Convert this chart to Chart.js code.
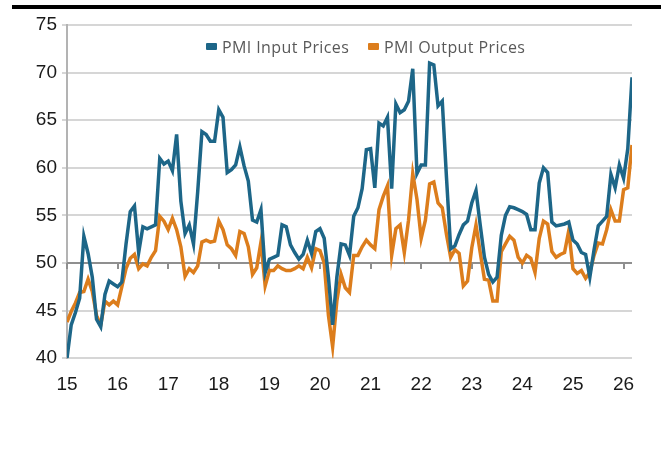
<!DOCTYPE html>
<html>
<head>
<meta charset="utf-8">
<script src="https://cdn.jsdelivr.net/npm/chart.js@4.4.1/dist/chart.umd.min.js"></script>
<style>
  html, body { margin: 0; padding: 0; background: #fff; }
  #wrap { position: relative; width: 661px; height: 471px; }
  #topbar { position: absolute; left: 12px; right: 0; top: 5px; height: 4px; background: #000; }
  .leg { position: absolute; top: 36px; font: 16px "Open Sans", sans-serif; letter-spacing: 0.4px; color: #595959; white-space: nowrap; }
  .leg i { display: inline-block; width: 11px; height: 7px; border-radius: 1px; margin-right: 5px; vertical-align: 3px; }
</style>
</head>
<body>
<div id="wrap">
  <canvas id="pmi" width="661" height="471"></canvas>
  <div id="topbar"></div>
  <div id="legend"></div>
</div>
<script>
// monthly readings, Jan 2015 .. Mar 2026
const startYear = 15;
const yearTicks = [15, 16, 17, 18, 19, 20, 21, 22, 23, 24, 25, 26];
const axisAt = 50;

const inputPrices = [
  40.0, 43.5, 44.8, 46.3, 52.8, 51.0, 48.5, 44.1, 43.3, 46.7, 48.1, 47.8,
  47.5, 48.0, 52.0, 55.4, 56.0, 51.1, 53.8, 53.6, 53.8, 54.0, 61.0, 60.4,
  60.7, 59.7, 63.5, 56.5, 53.1, 54.0, 52.0, 57.5, 63.8, 63.5, 62.8, 62.8,
  66.1, 65.3, 59.5, 59.8, 60.3, 62.2, 60.2, 58.6, 54.5, 54.3, 55.6, 49.0,
  50.4, 50.6, 50.8, 54.0, 53.8, 51.9, 51.1, 50.4, 50.9, 52.4, 51.0, 53.3,
  53.6, 52.6, 48.5, 43.5, 48.5, 52.0, 51.9, 50.8, 54.9, 55.8, 57.8, 61.9,
  62.0, 57.9, 64.7, 64.4, 65.3, 57.8, 66.7, 65.8, 66.1, 67.0, 70.4, 59.4,
  60.3, 60.3, 71.0, 70.8, 66.5, 67.0, 59.0, 51.5, 51.8, 53.0, 54.0, 54.4,
  56.3, 57.6, 54.0, 50.6, 48.8, 48.0, 48.5, 52.9, 55.0, 55.9, 55.8, 55.6,
  55.4, 55.1, 53.5, 53.5, 58.4, 60.0, 59.5, 54.3, 53.9, 54.0, 54.1, 54.3,
  52.4, 52.0, 51.1, 50.9, 48.5, 51.4, 53.9, 54.4, 54.9, 59.3, 57.9, 60.3,
  58.9, 62.0, 69.5
];

const outputPrices = [
  43.8, 44.9, 45.8, 46.9, 47.0, 48.3, 47.0, 44.5, 43.5, 46.0, 45.6, 46.0,
  45.6, 47.5, 49.4, 50.5, 50.9, 49.4, 49.9, 49.7, 50.6, 51.3, 54.9, 54.4,
  53.5, 54.7, 53.5, 51.7, 48.6, 49.4, 49.0, 49.7, 52.2, 52.4, 52.2, 52.3,
  54.4, 53.5, 51.9, 51.5, 50.8, 53.3, 53.1, 51.7, 48.8, 49.5, 52.2, 47.6,
  49.2, 49.2, 49.7, 49.4, 49.2, 49.2, 49.4, 49.7, 49.4, 50.6, 49.5, 51.5,
  51.3, 50.0, 44.5, 41.2, 46.0, 48.8, 47.4, 46.9, 50.8, 50.8, 51.7, 52.4,
  51.9, 51.5, 55.6, 57.0, 58.1, 50.8, 53.6, 54.0, 51.1, 54.5, 59.4, 56.7,
  52.6, 54.5, 58.3, 58.5, 56.3, 55.8, 53.0, 50.6, 51.4, 51.0, 47.6, 48.1,
  51.6, 54.0, 51.1, 48.3, 48.2, 46.0, 46.0, 51.2, 52.0, 52.8, 52.4, 50.6,
  50.0, 50.8, 50.5, 49.0, 52.6, 54.4, 54.1, 51.2, 50.6, 50.9, 51.1, 53.4,
  49.4, 48.9, 49.2, 48.4, 49.0, 50.8, 52.1, 52.0, 53.5, 55.6, 54.4, 54.4,
  57.7, 57.9, 62.4
];

const seriesNames = ['PMI Input Prices', 'PMI Output Prices'];
const seriesColors = ['#1d6688', '#dc7d1c'];

const toPoints = arr => arr.map((v, i) => ({x: startYear + i / 12, y: v}));
const lastX = startYear + (inputPrices.length - 1) / 12;

// legend drawn as html on top of the plot
const legendPos = [206, 368];
const $legend = document.getElementById('legend');
seriesNames.forEach((name, i) => {
  const el = document.createElement('div');
  el.className = 'leg';
  el.style.left = legendPos[i] + 'px';
  el.innerHTML = `<i style="background:${seriesColors[i]}"></i>${name}`;
  $legend.appendChild(el);
});

const midAxis = {
  id: 'midAxis',
  beforeDatasetsDraw(chart) {
    const {ctx, chartArea, scales: {x, y}} = chart;
    const yPos = y.getPixelForValue(axisAt);
    ctx.save();
    ctx.strokeStyle = '#8f8f8f';
    ctx.lineWidth = 2;
    ctx.beginPath();
    ctx.moveTo(chartArea.left, yPos);
    ctx.lineTo(chartArea.right, yPos);
    yearTicks.forEach(v => {
      const px = Math.round(x.getPixelForValue(v));
      ctx.moveTo(px, yPos);
      ctx.lineTo(px, yPos + 6);
    });
    ctx.stroke();
    ctx.restore();
  }
};

const tickFont = {family: "'Liberation Sans Narrow', 'Arial Narrow', 'Liberation Sans', sans-serif", size: 19};

const chart = new Chart(document.getElementById('pmi'), {
  type: 'line',
  data: {
    datasets: [
      {label: seriesNames[0], data: toPoints(inputPrices), borderColor: seriesColors[0], borderWidth: 3.5, pointRadius: 0, tension: 0},
      {label: seriesNames[1], data: toPoints(outputPrices), borderColor: seriesColors[1], borderWidth: 3.5, pointRadius: 0, tension: 0}
    ]
  },
  options: {
    responsive: false,
    animation: false,
    layout: {padding: {left: 0, right: 29, top: 25, bottom: 60}},
    scales: {
      x: {
        type: 'linear',
        min: startYear,
        max: lastX,
        grid: {display: false, drawTicks: false},
        border: {display: false},
        ticks: {
          stepSize: 1,
          includeBounds: false,
          padding: 15,
          color: '#1a1a1a',
          font: tickFont,
          maxRotation: 0,
          callback: v => Number.isInteger(v) ? String(v) : ''
        }
      },
      y: {
        min: 40,
        max: 75,
        grid: {color: '#d6d6d6', lineWidth: 2, tickLength: 5},
        border: {display: true, color: '#b3b3b3', width: 2},
        ticks: {stepSize: 5, padding: 5, color: '#1a1a1a', font: tickFont},
        afterFit(scale) { scale.width = 67; }
      }
    },
    plugins: {
      legend: {display: false},
      tooltip: {enabled: false}
    }
  },
  plugins: [midAxis]
});
</script>
</body>
</html>
